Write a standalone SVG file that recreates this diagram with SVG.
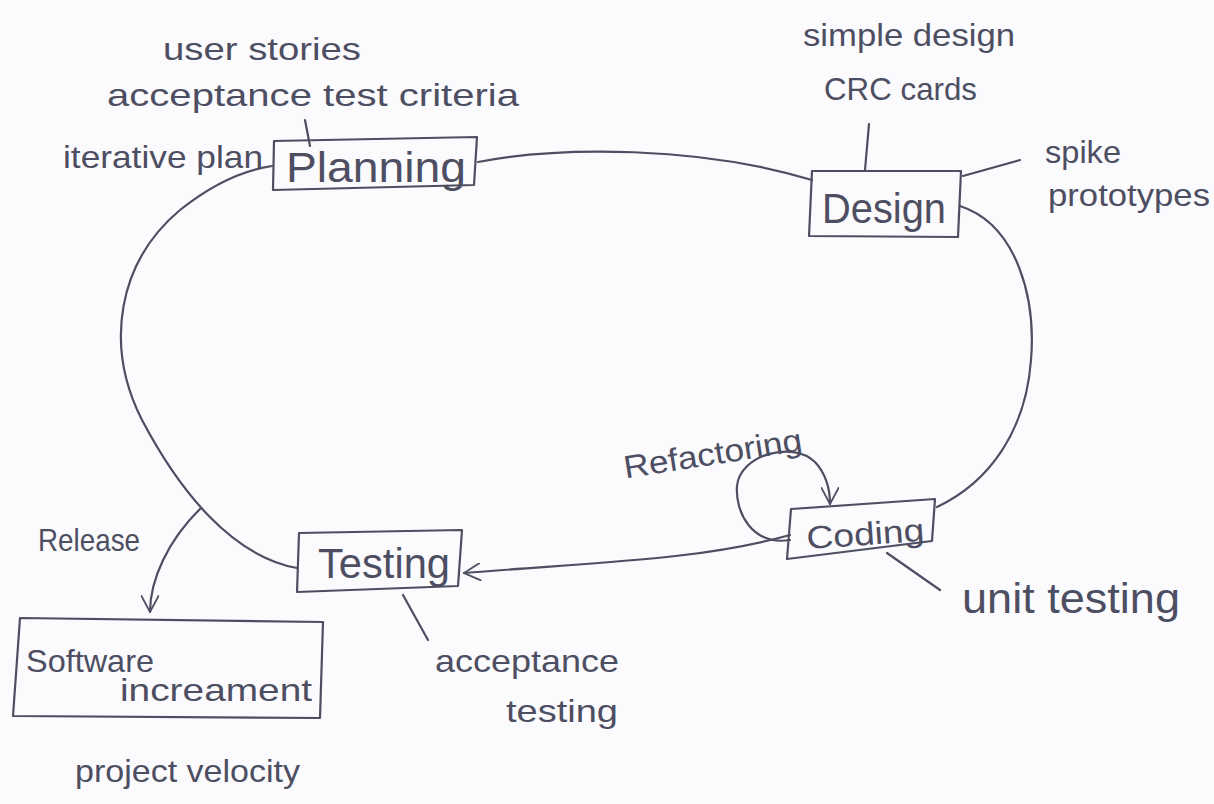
<svg xmlns="http://www.w3.org/2000/svg" width="1214" height="804" viewBox="0 0 1214 804">
<defs>
<style>
.bg{fill:#fbfbfd}
.ink{fill:none;stroke:#4e4e62;stroke-width:2.2;stroke-linecap:round;stroke-linejoin:round}
.t{font-family:"Liberation Sans","DejaVu Sans",sans-serif;fill:#4e4e62}
.n{font-size:32px}
.big{font-size:42px}
</style>
<marker id="ah2" viewBox="0 0 16 16" refX="15" refY="8" markerWidth="18" markerHeight="18" markerUnits="userSpaceOnUse" orient="auto">
<path d="M0,0 L15,8 L0,16" fill="none" stroke="#4e4e62" stroke-width="1.6"/>
</marker>
</defs>
<rect class="bg" x="0" y="0" width="1214" height="804"/>

<g id="connectors">
<path class="ink" d="M478,162 C560,146 700,146 812,180"/>
<path class="ink" d="M960,206 C1018,225 1036,300 1031,360 C1026,430 990,482 937,507"/>
<path class="ink" d="M790,535 C700,560 600,562 464,573" marker-end="url(#ah2)"/>
<path class="ink" d="M297,568 C232,556 180,492 142,420 C104,345 118,262 180,210 C215,182 245,170 272,166"/>
<path class="ink" d="M201,508 C168,540 150,580 150,612" marker-end="url(#ah2)"/>
<path class="ink" d="M790,540 C752,546 735,512 737,486 C740,455 792,440 815,462 C826,474 830,490 830,504" marker-end="url(#ah2)"/>
<path class="ink" d="M305,120 L310,146"/>
<path class="ink" d="M869,124 L865,170"/>
<path class="ink" d="M963,176 L1020,160"/>
<path class="ink" d="M887,553 L940,590"/>
<path class="ink" d="M403,595 L428,640"/>
</g>

<g id="planning">
<path class="ink" d="M274,141 L477,137 L474,185 L273,190 Z"/>
<text class="t big" x="286" y="182" textLength="180" lengthAdjust="spacingAndGlyphs">Planning</text>
</g>
<g id="planning-notes">
<text class="t n" x="163" y="60" textLength="198" lengthAdjust="spacingAndGlyphs">user stories</text>
<text class="t n" x="107" y="106" textLength="412" lengthAdjust="spacingAndGlyphs">acceptance test criteria</text>
<text class="t n" x="63" y="168" textLength="200" lengthAdjust="spacingAndGlyphs">iterative plan</text>
</g>

<g id="design">
<path class="ink" d="M812,171 L961,171 L958,237 L809,236 Z"/>
<text class="t big" x="822" y="223" textLength="124" lengthAdjust="spacingAndGlyphs">Design</text>
</g>
<g id="design-notes">
<text class="t n" x="803" y="46" textLength="212" lengthAdjust="spacingAndGlyphs">simple design</text>
<text class="t n" x="824" y="100" textLength="153" lengthAdjust="spacingAndGlyphs">CRC cards</text>
<text class="t n" x="1045" y="163" textLength="76" lengthAdjust="spacingAndGlyphs">spike</text>
<text class="t n" x="1048" y="206" textLength="162" lengthAdjust="spacingAndGlyphs">prototypes</text>
</g>

<g id="coding">
<path class="ink" d="M791,509 L935,499 L932,541 L787,559 Z"/>
<text class="t n" x="806" y="545" textLength="118" lengthAdjust="spacingAndGlyphs" transform="rotate(-4 865 530)">Coding</text>
</g>
<g id="coding-notes">
<text class="t n" x="622" y="465" textLength="180" lengthAdjust="spacingAndGlyphs" transform="rotate(-9 710 450)">Refactoring</text>
<text class="t big" x="962" y="613" textLength="218" lengthAdjust="spacingAndGlyphs">unit testing</text>
</g>

<g id="testing">
<path class="ink" d="M299,533 L462,530 L458,586 L297,592 Z"/>
<text class="t big" x="318" y="578" textLength="132" lengthAdjust="spacingAndGlyphs">Testing</text>
</g>
<g id="testing-notes">
<text class="t n" x="435" y="672" textLength="184" lengthAdjust="spacingAndGlyphs">acceptance</text>
<text class="t n" x="506" y="722" textLength="112" lengthAdjust="spacingAndGlyphs">testing</text>
</g>

<g id="software-increment">
<path class="ink" d="M20,618 L323,622 L320,718 L13,716 Z"/>
<text class="t n" x="26" y="672" textLength="128" lengthAdjust="spacingAndGlyphs">Software</text>
<text class="t n" x="120" y="701" textLength="192" lengthAdjust="spacingAndGlyphs">increament</text>
</g>
<g id="release-notes">
<text class="t n" x="38" y="551" textLength="102" lengthAdjust="spacingAndGlyphs">Release</text>
<text class="t n" x="75" y="782" textLength="225" lengthAdjust="spacingAndGlyphs">project velocity</text>
</g>
</svg>
